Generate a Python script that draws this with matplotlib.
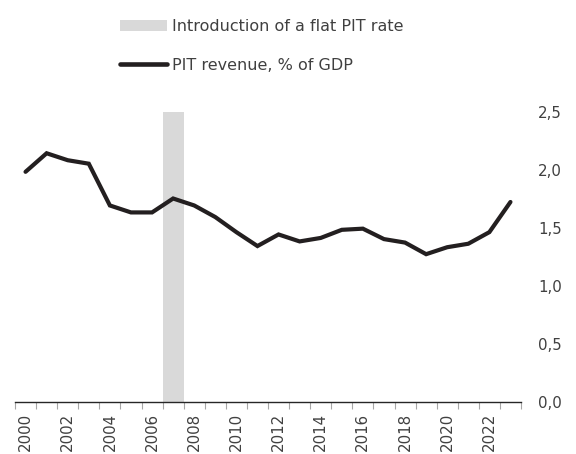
import numpy as np
import matplotlib.pyplot as plt
from matplotlib.patches import Patch
from matplotlib.lines import Line2D

years = list(range(2000, 2024))
pit_revenue = [1.98, 2.14, 2.08, 2.05, 1.69, 1.63, 1.63, 1.75, 1.69, 1.59,
               1.46, 1.34, 1.44, 1.38, 1.41, 1.48, 1.49, 1.40, 1.37, 1.27,
               1.33, 1.36, 1.46, 1.72]
flat_rate_year = 2007
flat_rate_height = 2.5
tick_years = list(range(2000, 2023, 2))

text_col = "#404040"
plt.rcParams['font.family'] = ['DejaVu Sans']
plt.rcParams['font.size'] = 10.8

fig = plt.figure(figsize=(5.76, 4.54), dpi=100)
ax = fig.add_axes([15/576, 1-401.5/454, (521-15)/576, (401.5-111.5)/454])

x = np.arange(len(years))
bar_x = years.index(flat_rate_year)
ax.bar(bar_x, flat_rate_height, width=1.0, color="#d9d9d9", zorder=1)
ax.plot(x, pit_revenue, color="#231f20", lw=3.0, solid_capstyle='round',
        solid_joinstyle='miter', zorder=3)

ax.set_xlim(-0.5, len(years)-0.5)
ax.set_ylim(0, 2.5)

# boundary ticks (unlabelled) and centred year labels
ax.set_xticks(np.arange(-0.5, len(years), 1.0))
ax.set_xticklabels([])
ax.tick_params(axis='x', which='major', length=5, width=0.8, color="#a6a6a6")
ax.set_xticks([years.index(y) for y in tick_years], minor=True)
ax.set_xticklabels([str(y) for y in tick_years], minor=True, rotation=90,
                   color=text_col)
ax.tick_params(axis='x', which='minor', length=0, pad=8.3)

ax.yaxis.tick_right()
ax.set_yticks(np.arange(0, 2.51, 0.5))
ax.set_yticklabels([f"{v:.1f}".replace('.', ',') for v in np.arange(0, 2.51, 0.5)],
                   color=text_col)
ax.tick_params(axis='y', length=0, pad=12.2)

for s in ['top', 'left', 'right']:
    ax.spines[s].set_visible(False)
ax.spines['bottom'].set_color("#262626")
ax.spines['bottom'].set_linewidth(1.0)

handles = [Patch(facecolor="#d9d9d9", edgecolor='none'),
           Line2D([], [], color="#231f20", lw=3.3, solid_capstyle='round')]
labels = ["Introduction of a flat PIT rate", "PIT revenue, % of GDP"]
fig.legend(handles, labels, loc='upper left', bbox_to_anchor=(106/576, 1-5/454),
           frameon=False, handlelength=2.95, handletextpad=0.3,
           labelspacing=1.45, labelcolor=text_col, fontsize=11.5)

fig.savefig("out.png", dpi=100)
